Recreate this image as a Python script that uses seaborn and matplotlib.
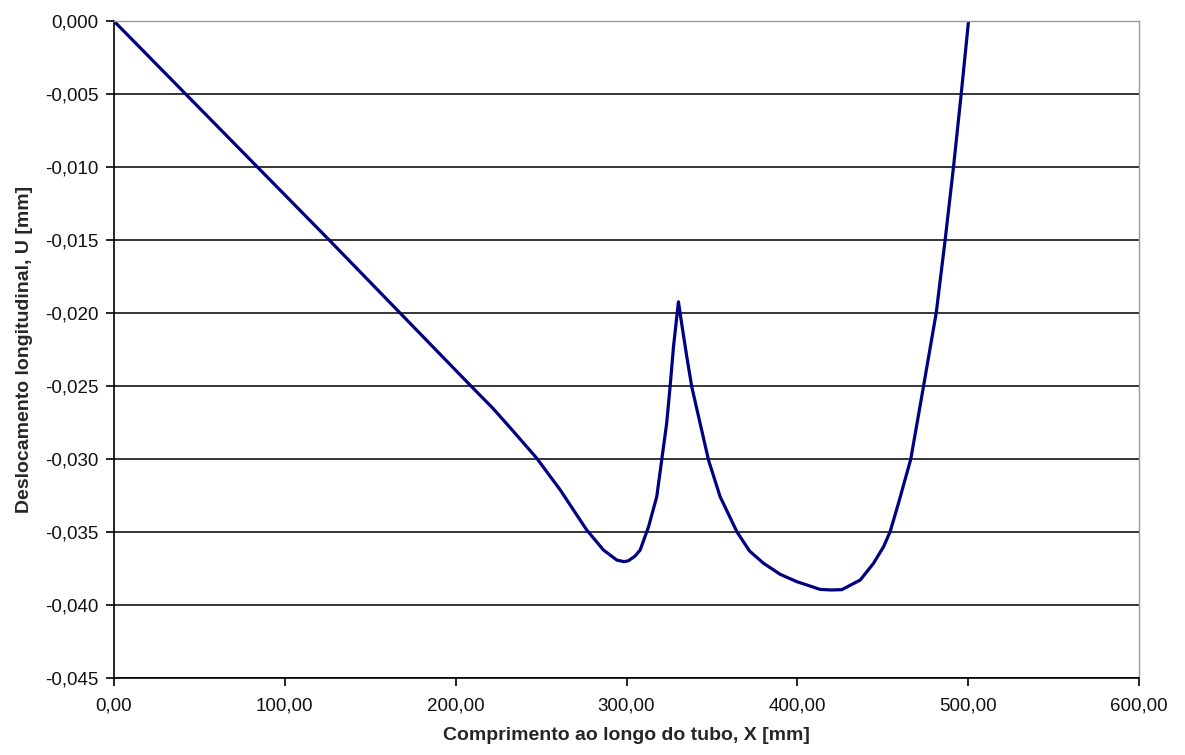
import matplotlib
matplotlib.use("Agg")
import matplotlib.pyplot as plt
import seaborn as sns
import pandas as pd
from matplotlib.ticker import FuncFormatter

# Data
x_mm = [0.0, 42.0, 84.0, 126.0, 167.5, 208.4, 222.0, 233.0, 247.5, 261.1, 276.7, 286.5,
        294.3, 298.5, 301.1, 305.0, 308.0, 312.9, 317.7, 320.6, 323.5, 325.5, 327.5,
        329.2, 330.4, 332.0, 335.3, 338.2, 343.1, 348.0, 354.8, 364.6, 372.0, 380.2,
        390.0, 399.7, 413.3, 420.0, 426.0, 436.8, 444.6, 450.5, 454.3, 459.2,
        466.4, 473.8, 481.3, 486.5, 491.4, 495.9, 500.2]
u_mm = [0.0, -0.0050, -0.0100, -0.0150, -0.0200, -0.02493, -0.02655, -0.02800, -0.02995,
        -0.0321, -0.03486, -0.03623, -0.03692, -0.03703, -0.03697, -0.03665, -0.03623,
        -0.03464, -0.03258, -0.03007, -0.02756, -0.02505, -0.02231, -0.02050, -0.01923,
        -0.02050, -0.02300, -0.02505, -0.02756, -0.03007, -0.03258, -0.03498, -0.03630,
        -0.03714, -0.03790, -0.03840, -0.03893, -0.03897, -0.03895, -0.03829, -0.03714,
        -0.03600, -0.03498, -0.03303, -0.03000, -0.02505, -0.01998, -0.01500, -0.01000,
        -0.00500, 0.0]

x_ticks = [0, 100, 200, 300, 400, 500, 600]
y_ticks = [0.0, -0.005, -0.010, -0.015, -0.020, -0.025, -0.030, -0.035, -0.040, -0.045]

x_label = "Comprimento ao longo do tubo, X [mm]"
y_label = "Deslocamento longitudinal, U [mm]"

df = pd.DataFrame({"X": x_mm, "U": u_mm})

sns.set_style("white")
plt.rcParams["font.family"] = ["Liberation Sans", "DejaVu Sans"]

fig = plt.figure(figsize=(11.85, 7.55), dpi=100)
ax = fig.add_axes([0.0962, 0.102, 0.8650, 0.8700])

sns.lineplot(data=df, x="X", y="U", sort=False, estimator=None, color="#000080",
             linewidth=2.3, ax=ax)

ax.set_xlim(0, 600)
ax.set_ylim(-0.045, 0.0)
ax.set_xticks(x_ticks)
ax.set_yticks(y_ticks)
ax.xaxis.set_major_formatter(FuncFormatter(lambda v, p: f"{v:.2f}".replace(".", ",")))
ax.yaxis.set_major_formatter(FuncFormatter(lambda v, p: f"{v:.3f}".replace(".", ",").replace("-0,000", "0,000")))

ax.yaxis.grid(True, color="black", linewidth=1.1)
ax.set_axisbelow(True)
for v, gl in zip(y_ticks, ax.get_ygridlines()):
    if v == 0.0:
        gl.set_color("#999999")

for s in ["left", "bottom"]:
    ax.spines[s].set_color("black")
    ax.spines[s].set_linewidth(1.2)
for s in ["top", "right"]:
    ax.spines[s].set_color("#999999")
    ax.spines[s].set_linewidth(1.0)

ax.tick_params(axis="both", which="major", direction="out", length=6, width=1.2,
               color="black", labelsize=13.5, labelcolor="#111111",
               left=True, bottom=True, pad=5)
ax.tick_params(axis="x", pad=8)

ax.set_xlabel(x_label, fontsize=14, fontweight="bold", labelpad=9)
ax.set_ylabel(y_label, fontsize=14, fontweight="bold", labelpad=9)

fig.savefig("out.png", dpi=100, facecolor="white")
